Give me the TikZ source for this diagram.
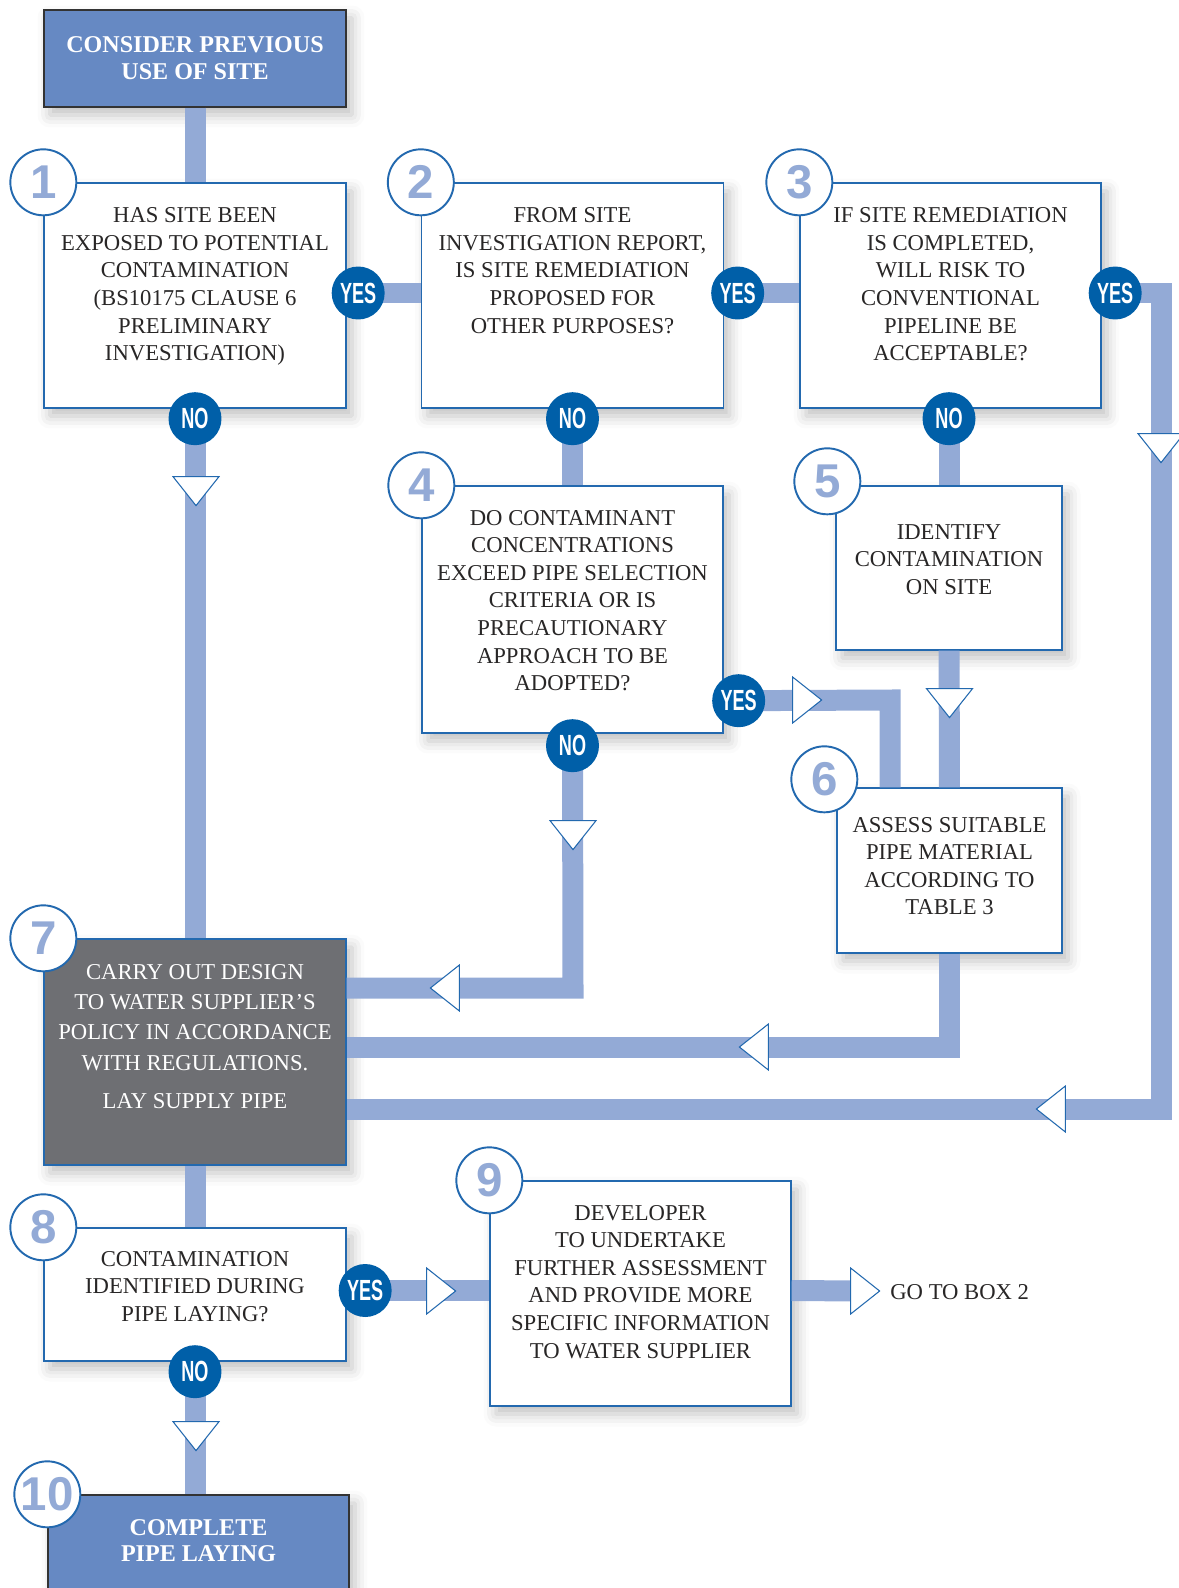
\documentclass[tikz,border=0pt]{standalone}
\usepackage{fontspec}
\setmainfont{Liberation Serif}
\newfontfamily\badgefont[FakeStretch=0.62]{Liberation Sans}
\newfontfamily\numfont{Liberation Sans}
\usetikzlibrary{positioning,shapes.geometric,shadows.blur}
\definecolor{pipeblue}{RGB}{147,170,214}
\definecolor{boxblue}{RGB}{35,105,175}
\definecolor{headblue}{RGB}{102,137,195}
\definecolor{badgeblue}{RGB}{0,95,168}
\definecolor{boxgrey}{RGB}{110,111,115}
\definecolor{inkgrey}{RGB}{40,38,38}
\newcommand\bodyfont{\fontsize{12.9}{15.7}\selectfont}
\newcommand\headfont{\bfseries\fontsize{13.7}{15.3}\selectfont}
\pgfdeclarelayer{pipes}
\pgfdeclarelayer{top}
\pgfsetlayers{main,pipes,top}
\tikzset{
  box/.style={draw=boxblue, line width=0.8pt, fill=white, inner sep=0pt,
    blur shadow={shadow xshift=0.12cm, shadow yshift=-0.16cm, shadow blur radius=0.25cm, shadow opacity=25}},
  endbox/.style={box, fill=headblue, draw=black!80},
  txt/.style={align=center, inner sep=0pt, text=inkgrey, font=\bodyfont},
  num/.style={circle, draw=boxblue, line width=1.1pt, fill=white, minimum size=1.32cm, inner sep=0pt,
    text=pipeblue, font=\numfont\bfseries\fontsize{27}{27}\selectfont},
  badge/.style={circle, fill=badgeblue, minimum size=1.06cm, inner sep=0pt,
    text=white, font=\badgefont\bfseries\fontsize{16.6}{16.6}\selectfont},
  pipe/.style={draw=pipeblue, line width=0.42cm, line join=miter},
  tri/.style={isosceles triangle, isosceles triangle stretches, minimum width=0.92cm, minimum height=0.58cm,
    inner sep=0pt, fill=white, draw=boxblue, line width=0.6pt}
}
\begin{document}
\begin{tikzpicture}[x=0.02cm, y=-0.02cm]
    \useasboundingbox (0,0) rectangle (1179,1588);
    % start and end
    \node[endbox, minimum width=6.04cm, minimum height=1.94cm, text=white, font=\headfont, align=center] (head) at (195,58.5) {CONSIDER PREVIOUS\\USE OF SITE};
    \node[endbox, minimum width=6.02cm, minimum height=2.4cm] (b10) at (198.5,1555) {};
    \node[txt, text=white, font=\headfont, below=0.49cm of b10.north] (t10) {COMPLETE\\PIPE LAYING};
    % question boxes, top row
    \node[box, minimum width=6.04cm, minimum height=4.5cm] (b1) at (195,295.5) {};
    \node[box, minimum width=6.04cm, minimum height=4.5cm] (b2) at (572.5,295.5) {};
    \node[box, minimum width=6.02cm, minimum height=4.5cm] (b3) at (950.5,295.5) {};
    \node[txt, below=0.5cm of b1.north] (t1) {HAS SITE BEEN\\EXPOSED TO POTENTIAL\\CONTAMINATION\\(BS10175 CLAUSE 6\\PRELIMINARY\\INVESTIGATION)};
    \node[txt, below=0.5cm of b2.north] (t2) {FROM SITE\\INVESTIGATION REPORT,\\IS SITE REMEDIATION\\PROPOSED FOR\\OTHER PURPOSES?};
    \node[txt, below=0.5cm of b3.north] (t3) {IF SITE REMEDIATION\\IS COMPLETED,\\WILL RISK TO\\CONVENTIONAL\\PIPELINE BE\\ACCEPTABLE?};
    % middle boxes
    \node[box, minimum width=6.02cm, minimum height=4.94cm] (b4) at (572.5,609.5) {};
    \node[box, minimum width=4.52cm, minimum height=3.28cm] (b5) at (949,568) {};
    \node[box, minimum width=4.5cm, minimum height=3.3cm] (b6) at (949.5,870.5) {};
    \node[txt, below=0.49cm of b4.north] (t4) {DO CONTAMINANT\\CONCENTRATIONS\\EXCEED PIPE SELECTION\\CRITERIA OR IS\\PRECAUTIONARY\\APPROACH TO BE\\ADOPTED?};
    \node[txt, below=0.77cm of b5.north] (t5) {IDENTIFY\\CONTAMINATION\\ON SITE};
    \node[txt, below=0.59cm of b6.north] (t6) {ASSESS SUITABLE\\PIPE MATERIAL\\ACCORDING TO\\TABLE 3};
    % design box and lower row
    \node[box, fill=boxgrey, minimum width=6.04cm, minimum height=4.52cm] (b7) at (195,1052) {};
    \node[txt, text=white, font=\fontsize{12.9}{17.3}\selectfont, below=0.51cm of b7.north] (t7) {CARRY OUT DESIGN\\TO WATER SUPPLIER’S\\POLICY IN ACCORDANCE\\WITH REGULATIONS.\\[0.16cm]LAY SUPPLY PIPE};
    \node[box, minimum width=6.04cm, minimum height=2.66cm] (b8) at (195,1294.5) {};
    \node[box, minimum width=6.02cm, minimum height=4.5cm] (b9) at (640.5,1293.5) {};
    \node[txt, below=0.47cm of b8.north] (t8) {CONTAMINATION\\IDENTIFIED DURING\\PIPE LAYING?};
    \node[txt, below=0.49cm of b9.north] (t9) {DEVELOPER\\TO UNDERTAKE\\FURTHER ASSESSMENT\\AND PROVIDE MORE\\SPECIFIC INFORMATION\\TO WATER SUPPLIER};
    \node[txt, anchor=west] (go) at (890,1292) {GO TO BOX 2};
    % numbers
    \node[num] (c1) at (b1.north west) {1};
    \node[num] (c2) at (b2.north west) {2};
    \node[num] (c3) at (b3.north west) {3};
    \node[num] (c4) at (b4.north west) {4};
    \node[num] (c5) at ([shift={(-0.16cm,0.08cm)}]b5.north west) {5};
    \node[num] (c6) at ([shift={(-0.24cm,0.16cm)}]b6.north west) {6};
    \node[num] (c7) at (b7.north west) {7};
    \node[num] (c8) at (b8.north west) {8};
    \node[num] (c9) at (b9.north west) {9};
    \node[num] (c10) at (b10.north west) {10};
    \begin{pgfonlayer}{top}
    % yes / no
    \node[badge] (y1) at ([shift={(0.23cm,0.05cm)}]b1.east) {YES};
    \node[badge] (y2) at ([shift={(0.27cm,0.05cm)}]b2.east) {YES};
    \node[badge] (y3) at ([shift={(0.27cm,0.05cm)}]b3.east) {YES};
    \node[badge] (y4) at ([shift={(0.3cm,0.66cm)}]b4.south east) {YES};
    \node[badge] (y8) at ([shift={(0.37cm,0.08cm)}]b8.east) {YES};
    \node[badge] (n1) at ([yshift=-0.2cm]b1.south) {NO};
    \node[badge] (n2) at ([yshift=-0.2cm]b2.south) {NO};
    \node[badge] (n3) at ([shift={(-0.03cm,-0.2cm)}]b3.south) {NO};
    \node[badge] (n4) at ([yshift=-0.24cm]b4.south) {NO};
    \node[badge] (n8) at ([yshift=-0.2cm]b8.south) {NO};
    % turning points
    \coordinate (r1) at (1161,1109);
    \coordinate (r4) at (573,988);
    \coordinate (r6) at (949.5,1047);
    \coordinate (r7) at (890,700);
    % arrow heads
    \node[tri, rotate=-90, anchor=apex] (a1) at (196,507) {};
    \node[tri, rotate=-90, anchor=apex] (a2) at (1161,464) {};
    \node[tri, rotate=180, anchor=apex] (a3) at (1035,1109) {};
    \node[tri, rotate=180, anchor=apex] (a4) at (738,1047) {};
    \node[tri, rotate=180, anchor=apex] (a5) at (429,988) {};
    \node[tri, rotate=-90, anchor=apex] (a6) at (573,851) {};
    \node[tri, anchor=apex] (a7) at (823,700) {};
    \node[tri, rotate=-90, anchor=apex] (a8) at (949.5,719) {};
    \node[tri, anchor=apex] (a9) at (457,1291) {};
    \node[tri, anchor=apex] (a10) at (881,1291) {};
    \node[tri, rotate=-90, anchor=apex] (a11) at (196,1452) {};
    \end{pgfonlayer}
    % pipes, above the box shadows
    \begin{pgfonlayer}{pipes}
    \draw[pipe] (head) -- (b1);
    \draw[pipe] (y1.center) -- (y1 -| b2.west);
    \draw[pipe] (y2.center) -- (y2 -| b3.west);
    \draw[pipe] (y3.center) -- (y3 -| r1) -- (r1) -- (r1 -| b7.east);
    \draw[pipe] (n1.center) -- (n1 |- b7.north);
    \draw[pipe] (n2.center) -- (n2 |- b4.north);
    \draw[pipe] (n3.center) -- (n3 |- b5.north);
    \draw[pipe] (b5) -- (b6);
    \draw[pipe] (y4.center) -- (r7) -- (r7 |- b6.north);
    \draw[pipe] (b6) -- (r6) -- (r6 -| b7.east);
    \draw[pipe] (n4.center) -- (r4) -- (r4 -| b7.east);
    \draw[pipe] (b7) -- (b8);
    \draw[pipe] (y8.center) -- (y8 -| b9.west);
    \draw[pipe] (y8 -| b9.east) -- (a10.center);
    \draw[pipe] (n8.center) -- (n8 |- b10.north);
    \end{pgfonlayer}
\end{tikzpicture}
\end{document}
